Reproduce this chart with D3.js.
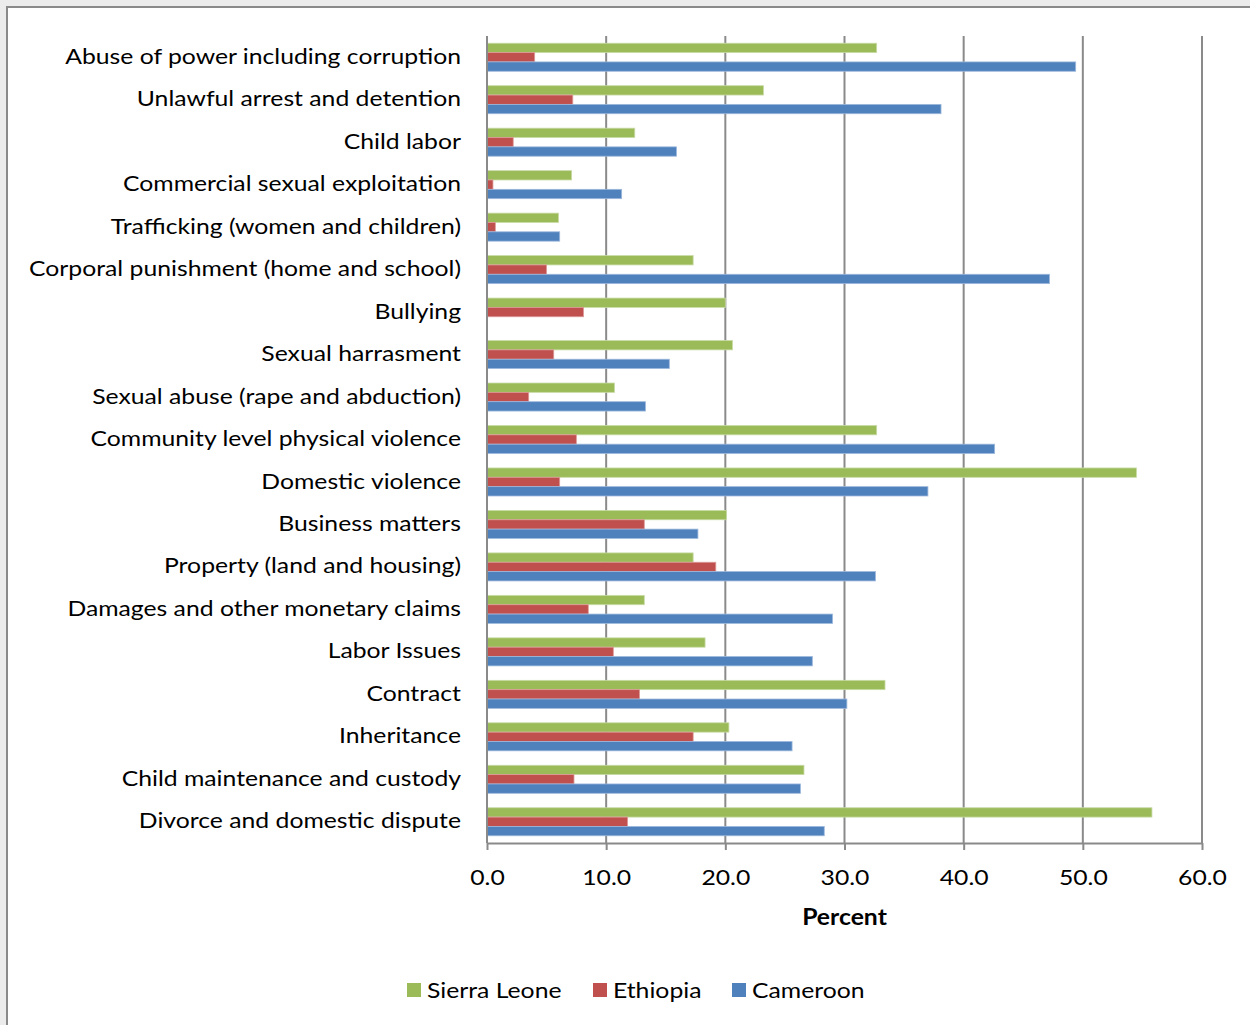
<!DOCTYPE html>
<html>
<head>
<meta charset="utf-8">
<script src="https://cdn.jsdelivr.net/npm/d3@7"></script>
<style>
  html, body { margin: 0; padding: 0; background: #ececec; }
  svg { display: block; }
  text { font-family: Lato, "Open Sans", sans-serif; fill: #000; }
</style>
</head>
<body>
<svg id="chart" width="1250" height="1025"></svg>
<script>
// Issue categories, top to bottom
const categories = [
  "Abuse of power including corruption",
  "Unlawful arrest and detention",
  "Child labor",
  "Commercial sexual exploitation",
  "Trafficking (women and children)",
  "Corporal punishment (home and school)",
  "Bullying",
  "Sexual harrasment",
  "Sexual abuse (rape and abduction)",
  "Community level physical violence",
  "Domestic violence",
  "Business matters",
  "Property (land and housing)",
  "Damages and other monetary claims",
  "Labor Issues",
  "Contract",
  "Inheritance",
  "Child maintenance and custody",
  "Divorce and domestic dispute"
];

const seriesNames = ["Sierra Leone", "Ethiopia", "Cameroon"];
const seriesColors = ["#9bbb59", "#c0504d", "#4f81bd"];
const seriesEdges = ["#c9dba6", "#dc9a98", "#9db8dc"];

// Percent values per country, in category order
const sierraLeone = [32.7, 23.2, 12.4, 7.1, 6.0, 17.3, 20.0, 20.6, 10.7, 32.7, 54.5, 20.1, 17.3, 13.2, 18.3, 33.4, 20.3, 26.6, 55.8];
const ethiopia    = [4.0, 7.2, 2.2, 0.5, 0.7, 5.0, 8.1, 5.6, 3.5, 7.5, 6.1, 13.2, 19.2, 8.5, 10.6, 12.8, 17.3, 7.3, 11.8];
const cameroon    = [49.4, 38.1, 15.9, 11.3, 6.1, 47.2, 0, 15.3, 13.3, 42.6, 37.0, 17.7, 32.6, 29.0, 27.3, 30.2, 25.6, 26.3, 28.3];

const xTicks = [0, 10, 20, 30, 40, 50, 60];

const FONT = "Lato, 'Open Sans', sans-serif";
const WIDEN = 1.125; // horizontal stretch applied to all text
const svg = d3.select("#chart");

// White chart frame with grey border
svg.append("rect")
  .attr("x", 7).attr("y", 7)
  .attr("width", 1260).attr("height", 1040)
  .attr("fill", "#ffffff")
  .attr("stroke", "#8a8a8a")
  .attr("stroke-width", 2);

const plot = { left: 487, right: 1202, top: 36, bottom: 843 };

const x = d3.scaleLinear().domain([0, 60]).range([plot.left, plot.right]);
const y = d3.scaleBand().domain(categories).range([plot.top, plot.bottom])
  .paddingInner(0.34).paddingOuter(0.17);
const ySub = d3.scaleBand().domain(seriesNames).range([0, y.bandwidth()]);

// Vertical gridlines
svg.append("g")
  .selectAll("line")
  .data(xTicks.filter(t => t > 0))
  .join("line")
  .attr("x1", d => x(d)).attr("x2", d => x(d))
  .attr("y1", plot.top).attr("y2", plot.bottom)
  .attr("stroke", "#8a8a8a")
  .attr("stroke-width", 2);

// Bars
const series = [sierraLeone, ethiopia, cameroon];
series.forEach((vals, si) => {
  svg.append("g")
    .selectAll("rect")
    .data(categories.map((c, i) => ({ c, v: vals[i] })).filter(d => d.v > 0))
    .join("rect")
    .attr("x", x(0))
    .attr("y", d => y(d.c) + ySub(seriesNames[si]))
    .attr("width", d => x(d.v) - x(0))
    .attr("height", ySub.bandwidth())
    .attr("fill", seriesColors[si])
    .attr("stroke", seriesEdges[si])
    .attr("stroke-width", 0.8);
});

// Left axis line
svg.append("line")
  .attr("x1", x(0)).attr("x2", x(0))
  .attr("y1", plot.top).attr("y2", plot.bottom)
  .attr("stroke", "#8a8a8a").attr("stroke-width", 2);

// Category labels
svg.append("g")
  .selectAll("text")
  .data(categories)
  .join("text")
  .attr("transform", d => `translate(461,${y(d) + y.bandwidth() / 2 + 1}) scale(${WIDEN},1)`)
  .attr("text-anchor", "end")
  .attr("dominant-baseline", "middle")
  .style("font-size", "22px")
  .text(d => d);

// Bottom axis
const xAxis = d3.axisBottom(x)
  .tickValues(xTicks)
  .tickSize(7)
  .tickSizeOuter(0)
  .tickPadding(19)
  .tickFormat(d3.format(".1f"));

const gx = svg.append("g")
  .attr("transform", `translate(0,${plot.bottom})`)
  .call(xAxis);
gx.select(".domain").attr("stroke", "#8a8a8a").attr("stroke-width", 2);
gx.selectAll(".tick line").attr("stroke", "#8a8a8a").attr("stroke-width", 2);
gx.selectAll(".tick text")
  .style("font-family", FONT)
  .style("font-size", "22px")
  .attr("transform", `scale(${WIDEN},1)`)
  .attr("fill", "#000");

// Axis title
svg.append("text")
  .attr("transform", `translate(${(plot.left + plot.right) / 2},925) scale(${WIDEN},1)`)
  .attr("text-anchor", "middle")
  .style("font-size", "22px")
  .style("font-weight", "bold")
  .text("Percent");

// Legend
const legendX = [407, 593, 732];
const legend = svg.append("g");
seriesNames.forEach((name, i) => {
  legend.append("rect")
    .attr("x", legendX[i]).attr("y", 983)
    .attr("width", 14).attr("height", 14)
    .attr("fill", seriesColors[i]);
  legend.append("text")
    .attr("transform", `translate(${legendX[i] + 20},998) scale(${WIDEN},1)`)
    .style("font-size", "22px")
    .text(name);
});
</script>
</body>
</html>
